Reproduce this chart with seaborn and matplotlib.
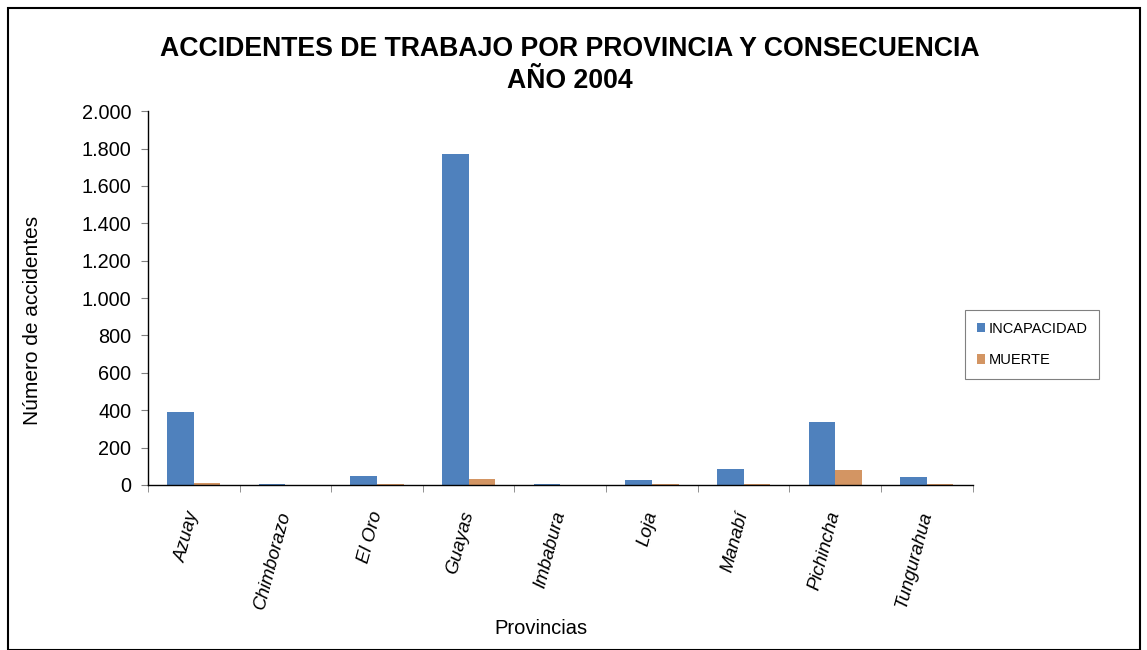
import matplotlib
matplotlib.use("Agg")
import matplotlib.pyplot as plt
import matplotlib.ticker as mticker
from matplotlib.patches import Rectangle
import seaborn as sns
import pandas as pd

provincias = ["Azuay", "Chimborazo", "El Oro", "Guayas", "Imbabura", "Loja",
              "Manabí", "Pichincha", "Tungurahua"]
incapacidad = [390, 7, 48, 1772, 7, 27, 86, 337, 43]
muerte = [12, 0, 3, 32, 0, 6, 6, 80, 6]
series = ["INCAPACIDAD", "MUERTE"]
colors = ["#4F81BD", "#D39563"]

df = pd.DataFrame({
    "Provincia": provincias * 2,
    "Valor": incapacidad + muerte,
    "Consecuencia": [series[0]] * len(provincias) + [series[1]] * len(provincias),
})

sns.set_style("white")
plt.rcParams["font.family"] = ["Liberation Sans", "DejaVu Sans"]
plt.rcParams["text.color"] = "black"
plt.rcParams["axes.labelcolor"] = "black"
plt.rcParams["xtick.labelcolor"] = "black"
plt.rcParams["ytick.labelcolor"] = "black"

fig = plt.figure(figsize=(11.47, 6.5), dpi=100)
ax = fig.add_axes([0.129, 0.254, 0.719, 0.575])

sns.barplot(data=df, x="Provincia", y="Valor", hue="Consecuencia",
            palette=colors, width=0.58, ax=ax, legend=True, saturation=1,
            linewidth=0)

ax.set_ylim(0, 2000)
ax.set_xlim(-0.5, len(provincias) - 0.5)
ax.yaxis.set_major_locator(mticker.MultipleLocator(200))
ax.yaxis.set_major_formatter(mticker.FuncFormatter(lambda v, p: f"{int(v):,}".replace(",", ".")))
ax.tick_params(axis="y", labelsize=14.3, length=5, left=True, direction="out",
               color="#808080", pad=7)
ax.set_xticks(range(len(provincias)))
ax.set_xticklabels(provincias, rotation=75, ha="right", va="center",
                   rotation_mode="anchor", fontsize=13.5, style="italic")
ax.tick_params(axis="x", bottom=False, pad=16)
ax.set_xticks([i + 0.5 for i in range(-1, len(provincias))], minor=True)
ax.tick_params(axis="x", which="minor", bottom=True, length=5, color="#808080")

for s in ["top", "right"]:
    ax.spines[s].set_visible(False)
for s in ["left", "bottom"]:
    ax.spines[s].set_color("black")
    ax.spines[s].set_linewidth(1.0)

ax.set_ylabel("Número de accidentes", fontsize=15)
ax.yaxis.set_label_coords(-0.128, 0.44)
ax.set_xlabel("Provincias", fontsize=14.5)
ax.xaxis.set_label_coords(0.476, -0.36)

fig.text(0.497, 0.9, "ACCIDENTES DE TRABAJO POR PROVINCIA Y CONSECUENCIA\nAÑO 2004",
         ha="center", va="center", fontsize=19.2, fontweight="bold", linespacing=1.32)

ax.get_legend().remove()
handles, labels = ax.get_legend_handles_labels()
leg = fig.legend(handles, labels, loc="center left", bbox_to_anchor=(0.835, 0.47),
                 frameon=True, fancybox=False, edgecolor="#606060", fontsize=10.5,
                 handlelength=0.6, handleheight=0.6, handletextpad=0.2,
                 labelspacing=1.2, borderpad=0.8)
leg.get_frame().set_linewidth(0.8)

fig.patches.append(Rectangle((8 / 1147, 0.0), 1132 / 1147, 642 / 650, transform=fig.transFigure,
                             fill=False, edgecolor="black", linewidth=1.5))

fig.savefig("out.png", dpi=100)
